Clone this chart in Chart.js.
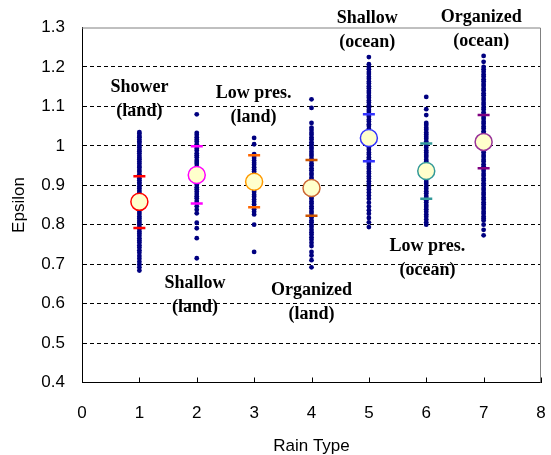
<!DOCTYPE html>
<html>
<head>
<meta charset="utf-8">
<script src="https://cdn.jsdelivr.net/npm/chart.js@4"></script>
<style>
  html, body { margin: 0; padding: 0; background: #fff; }
  #wrap { width: 551px; height: 455px; }
</style>
</head>
<body>
<div id="wrap"><canvas id="epsChart" width="551" height="455"></canvas></div>
<script>
// rain type index on x
const rainTypes = [1, 2, 3, 4, 5, 6, 7];

// individual epsilon samples per rain type
const showerLand = [1.035, 1.031, 1.025, 1.022, 1.016, 1.011, 1.007, 1.001, 0.996, 0.990, 0.986, 0.981, 0.975, 0.970, 0.966, 0.960, 0.955, 0.949, 0.945, 0.939, 0.934, 0.928, 0.924, 0.918, 0.913, 0.907, 0.903, 0.897, 0.892, 0.886, 0.881, 0.876, 0.870, 0.865, 0.859, 0.854, 0.848, 0.843, 0.838, 0.832, 0.827, 0.821, 0.816, 0.810, 0.805, 0.800, 0.794, 0.789, 0.783, 0.778, 0.772, 0.766, 0.760, 0.755, 0.748, 0.742, 0.735, 0.729, 0.721, 0.714, 0.706, 0.699, 0.692, 0.684];
const shallowLand = [1.080, 1.033, 1.028, 1.022, 1.016, 1.011, 1.004, 0.999, 0.993, 0.988, 0.981, 0.976, 0.971, 0.964, 0.959, 0.954, 0.947, 0.942, 0.937, 0.930, 0.925, 0.919, 0.914, 0.907, 0.902, 0.895, 0.890, 0.884, 0.878, 0.872, 0.867, 0.860, 0.855, 0.847, 0.838, 0.829, 0.805, 0.791, 0.766, 0.715];
const lowPresLand = [1.020, 1.004, 0.979, 0.974, 0.969, 0.963, 0.957, 0.952, 0.946, 0.940, 0.935, 0.929, 0.923, 0.918, 0.911, 0.906, 0.900, 0.895, 0.888, 0.883, 0.876, 0.871, 0.864, 0.858, 0.852, 0.845, 0.839, 0.833, 0.826, 0.800, 0.731];
const organizedLand = [1.118, 1.096, 1.058, 1.046, 1.040, 1.033, 1.028, 1.021, 1.016, 1.009, 1.004, 0.997, 0.992, 0.985, 0.979, 0.974, 0.967, 0.962, 0.955, 0.950, 0.943, 0.938, 0.931, 0.926, 0.919, 0.914, 0.907, 0.902, 0.895, 0.890, 0.883, 0.878, 0.871, 0.866, 0.859, 0.854, 0.847, 0.842, 0.835, 0.830, 0.823, 0.818, 0.811, 0.806, 0.799, 0.794, 0.787, 0.781, 0.775, 0.768, 0.762, 0.754, 0.746, 0.731, 0.722, 0.710, 0.692];
const shallowOcean = [1.225, 1.207, 1.200, 1.194, 1.187, 1.182, 1.175, 1.170, 1.163, 1.158, 1.151, 1.146, 1.139, 1.134, 1.127, 1.122, 1.115, 1.110, 1.103, 1.098, 1.091, 1.086, 1.079, 1.074, 1.067, 1.062, 1.055, 1.050, 1.043, 1.038, 1.031, 1.026, 1.019, 1.014, 1.007, 1.002, 0.995, 0.990, 0.983, 0.978, 0.971, 0.966, 0.959, 0.954, 0.947, 0.942, 0.935, 0.930, 0.923, 0.917, 0.910, 0.904, 0.896, 0.889, 0.882, 0.874, 0.866, 0.856, 0.846, 0.837, 0.828, 0.817, 0.806, 0.794];
const lowPresOcean = [1.124, 1.093, 1.078, 1.058, 1.053, 1.046, 1.041, 1.034, 1.029, 1.023, 1.018, 1.011, 1.006, 1.000, 0.995, 0.988, 0.983, 0.977, 0.972, 0.965, 0.960, 0.954, 0.949, 0.942, 0.937, 0.931, 0.926, 0.919, 0.914, 0.908, 0.903, 0.896, 0.891, 0.885, 0.880, 0.873, 0.868, 0.862, 0.857, 0.850, 0.845, 0.839, 0.833, 0.826, 0.820, 0.813, 0.806, 0.800];
const organizedOcean = [1.228, 1.213, 1.200, 1.194, 1.188, 1.181, 1.176, 1.169, 1.164, 1.157, 1.152, 1.145, 1.140, 1.133, 1.128, 1.121, 1.116, 1.109, 1.104, 1.097, 1.092, 1.085, 1.080, 1.073, 1.068, 1.061, 1.056, 1.049, 1.044, 1.037, 1.032, 1.025, 1.020, 1.013, 1.008, 1.001, 0.996, 0.989, 0.984, 0.977, 0.972, 0.965, 0.960, 0.953, 0.948, 0.941, 0.936, 0.929, 0.924, 0.917, 0.912, 0.905, 0.900, 0.893, 0.888, 0.881, 0.876, 0.869, 0.864, 0.857, 0.852, 0.845, 0.840, 0.833, 0.828, 0.821, 0.816, 0.811, 0.800, 0.787, 0.773];

const samples = [showerLand, shallowLand, lowPresLand, organizedLand, shallowOcean, lowPresOcean, organizedOcean];

// mean and mean +/- std dev
const means = [0.858, 0.926, 0.909, 0.893, 1.020, 0.936, 1.010];
const upperSd = [0.923, 0.999, 0.976, 0.964, 1.080, 1.006, 1.078];
const lowerSd = [0.792, 0.854, 0.844, 0.823, 0.961, 0.866, 0.943];

const ringColors = ['#ff0000', '#ff00ff', '#ff9900', '#cc6633', '#3333ff', '#339999', '#993399'];
const sdColors = ['#ff0000', '#ff00ff', '#ff6600', '#cc5500', '#3333ff', '#339999', '#800080'];

// text labels: anchor in data units
const typeNames = [
  { x: 1.00, y: 1.149, lines: ['Shower', '(land)'] },
  { x: 1.97, y: 0.652, lines: ['Shallow', '(land)'] },
  { x: 2.99, y: 1.134, lines: ['Low pres.', '(land)'] },
  { x: 4.00, y: 0.634, lines: ['Organized', '(land)'] },
  { x: 4.97, y: 1.322, lines: ['Shallow', '(ocean)'] },
  { x: 6.02, y: 0.745, lines: ['Low pres.', '(ocean)'] },
  { x: 6.96, y: 1.327, lines: ['Organized', '(ocean)'] }
];

const dotData = [];
samples.forEach((arr, i) => arr.forEach(v => dotData.push({ x: rainTypes[i], y: v })));

const sdData = [];
const sdCols = [];
rainTypes.forEach((x, i) => {
  sdData.push({ x: x, y: upperSd[i] }); sdCols.push(sdColors[i]);
  sdData.push({ x: x, y: lowerSd[i] }); sdCols.push(sdColors[i]);
});

const frameAndText = {
  id: 'frameAndText',
  beforeDatasetsDraw(chart) {
    const { ctx, chartArea: a, scales } = chart;
    ctx.save();
    // gray top/right frame
    ctx.strokeStyle = '#808080';
    ctx.lineWidth = 1;
    ctx.beginPath();
    ctx.moveTo(a.left, a.top + 0.5);
    ctx.lineTo(a.right - 0.5, a.top + 0.5);
    ctx.lineTo(a.right - 0.5, a.bottom);
    ctx.stroke();
    // inward x ticks
    ctx.strokeStyle = '#000';
    scales.x.ticks.forEach(t => {
      const px = Math.round(scales.x.getPixelForValue(t.value)) + 0.5;
      ctx.beginPath();
      ctx.moveTo(px, a.bottom);
      ctx.lineTo(px, a.bottom - 5);
      ctx.stroke();
    });
    ctx.restore();
  },
  afterDatasetsDraw(chart) {
    const { ctx, scales } = chart;
    ctx.save();
    ctx.fillStyle = '#000';
    ctx.font = 'bold 18px "Liberation Serif", "Times New Roman", serif';
    ctx.textAlign = 'center';
    ctx.textBaseline = 'middle';
    typeNames.forEach(l => {
      const px = scales.x.getPixelForValue(l.x);
      const py = scales.y.getPixelForValue(l.y);
      l.lines.forEach((s, k) => ctx.fillText(s, px, py + k * 24));
    });
    ctx.restore();
  }
};

const axisFont = { family: '"Liberation Sans", Arial, sans-serif', size: 17 };

new Chart(document.getElementById('epsChart').getContext('2d'), {
  type: 'scatter',
  data: {
    datasets: [
      {
        label: 'mean',
        data: rainTypes.map((x, i) => ({ x: x, y: means[i] })),
        pointStyle: 'circle',
        pointRadius: 8.5,
        backgroundColor: '#ffffcc',
        borderColor: ringColors,
        borderWidth: 1.5
      },
      {
        label: 'sd',
        data: sdData,
        pointStyle: 'line',
        pointRadius: 6,
        borderColor: sdCols,
        borderWidth: 2.5
      },
      {
        label: 'samples',
        data: dotData,
        pointStyle: 'circle',
        pointRadius: 2.4,
        borderWidth: 0,
        backgroundColor: '#000080'
      }
    ]
  },
  options: {
    responsive: false,
    animation: false,
    layout: { padding: { left: 0, right: 7, top: 27.5, bottom: 0 } },
    plugins: { legend: { display: false }, tooltip: { enabled: false } },
    scales: {
      x: {
        min: 0, max: 8,
        ticks: { stepSize: 1, color: '#000', font: axisFont, padding: 0, maxRotation: 0 },
        // transparent ticks just to push the labels down
        grid: { display: true, drawOnChartArea: false, drawTicks: true, tickLength: 21, tickColor: 'rgba(0,0,0,0)' },
        border: { color: '#000', width: 1 },
        title: { display: true, text: 'Rain Type', color: '#000', font: axisFont, padding: { top: -1.5, bottom: -1.5 } },
        afterFit(s) { s.height = 72.5; }
      },
      y: {
        min: 0.4, max: 1.3,
        ticks: {
          stepSize: 0.1, color: '#000', font: axisFont, padding: 17,
          callback: v => String(Math.round(v * 10) / 10)
        },
        grid: {
          drawTicks: false,
          color: c => (c.tick && (c.tick.value < 0.45 || c.tick.value > 1.25)) ? 'rgba(0,0,0,0)' : '#000',
          lineWidth: 1
        },
        border: { color: '#000', width: 1, dash: [4, 3] },
        title: { display: true, text: 'Epsilon', color: '#000', font: axisFont, padding: { top: 9, bottom: 0 } },
        afterFit(s) { s.width = 82; }
      }
    }
  },
  plugins: [frameAndText]
});
</script>
</body>
</html>
